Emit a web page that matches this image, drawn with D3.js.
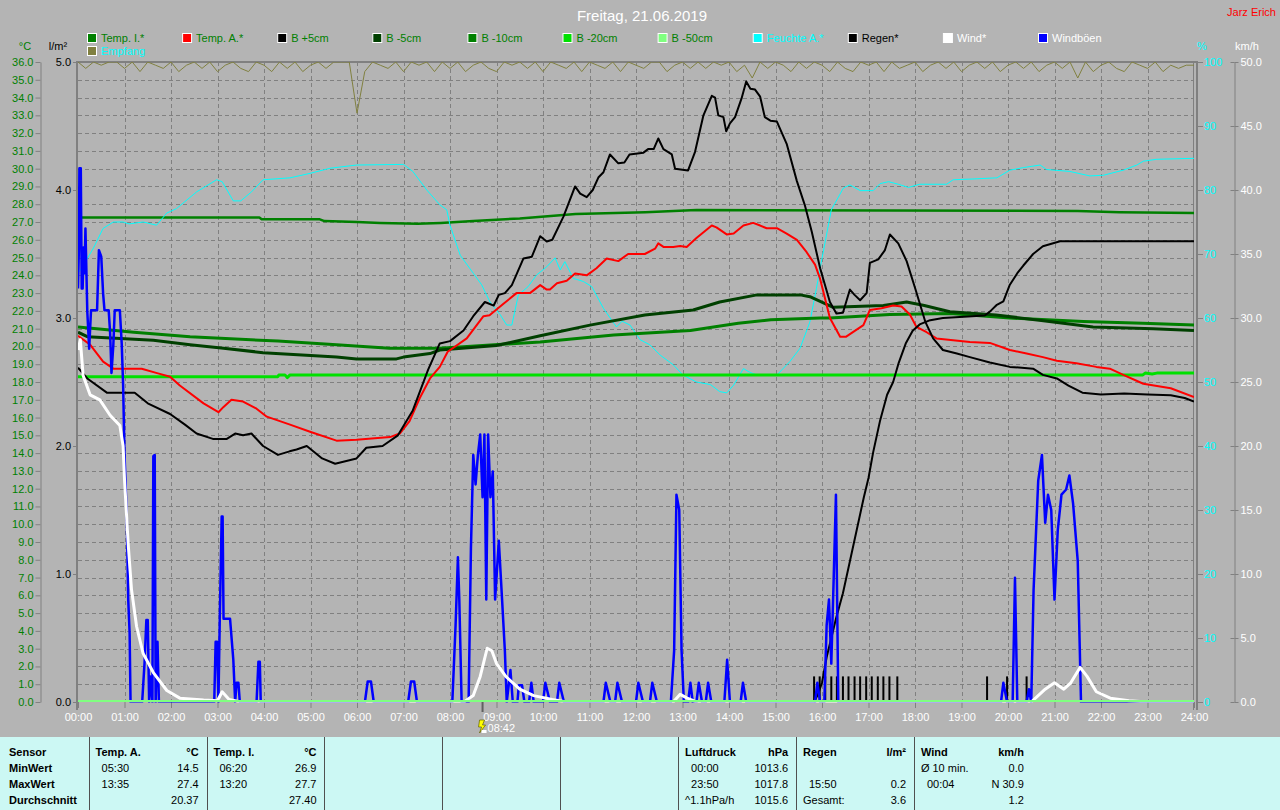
<!DOCTYPE html>
<html><head><meta charset="utf-8">
<script src="https://cdn.jsdelivr.net/npm/d3@7"></script>
<style>
body{margin:0;background:#b4b4b4;}
svg{display:block;font-family:"Liberation Sans",Arial,sans-serif;}
</style>
</head><body>
<svg id="c" width="1280" height="810"></svg>
<script>
// ---------------- DATA ----------------
const title = "Freitag, 21.06.2019";
const author = "Jarz Erich";
const hourLabels = d3.range(0, 25).map(h => (h < 10 ? "0" + h : "" + h) + ":00");
const tempTicks = d3.range(0, 37);
const rainTicks = [0, 1, 2, 3, 4, 5];
const humTicks = d3.range(0, 101, 10);
const windTicks = d3.range(0, 51, 5);

const legendNames = ["Temp. I.*", "Temp. A.*", "B +5cm", "B -5cm", "B -10cm", "B -20cm", "B -50cm", "Feuchte A.*", "Regen*", "Wind*", "Windböen"];
const legendColors = ["#008000", "#ff0000", "#000000", "#004000", "#008000", "#00e000", "#80ff80", "#00ffff", "#000000", "#ffffff", "#0000ff"];
const legendTextColors = ["#008000", "#008000", "#008000", "#008000", "#008000", "#008000", "#008000", "#00ffff", "#000000", "#ffffff", "#ffffff"];

// [hour, °C]
const tempI = [[0,27.25],[3.9,27.25],[3.95,27.15],[5.2,27.15],[5.3,27.05],[6.0,27.0],[6.5,26.95],[7.3,26.9],[7.8,26.95],[8.5,27.05],[9.5,27.2],[10.7,27.45],[12.2,27.55],[13.3,27.67],[21.5,27.62],[22.4,27.55],[24,27.5]];
const tempA = [[0,20.6],[0.26,20.1],[0.54,19.15],[0.76,18.75],[1.37,18.75],[1.7,18.5],[1.98,18.3],[2.19,17.8],[2.7,16.8],[3.02,16.3],[3.13,16.6],[3.3,17.0],[3.55,16.9],[3.84,16.5],[4.06,16.05],[4.56,15.6],[4.99,15.2],[5.56,14.7],[5.99,14.75],[6.71,14.9],[6.92,15.1],[7.13,15.8],[7.35,17.1],[7.57,18.2],[7.78,18.85],[7.95,19.7],[8.36,20.45],[8.72,21.7],[8.85,21.75],[9.15,22.4],[9.43,23.0],[9.72,23.0],[9.94,23.45],[10.08,23.2],[10.15,23.2],[10.3,23.55],[10.51,23.7],[10.69,24.1],[10.94,24.0],[11.15,24.4],[11.37,24.95],[11.62,24.8],[11.83,25.2],[12.19,25.2],[12.41,25.5],[12.48,25.8],[12.59,25.6],[12.8,25.6],[12.95,25.65],[13.09,25.6],[13.3,26.1],[13.63,26.8],[13.73,26.7],[13.95,26.3],[14.1,26.35],[14.31,26.8],[14.52,26.95],[14.67,26.8],[14.81,26.65],[15.03,26.65],[15.24,26.35],[15.46,26.0],[15.67,25.3],[15.85,24.6],[15.96,23.8],[16.17,21.6],[16.39,20.55],[16.52,20.55],[16.89,21.2],[17.03,22.05],[17.28,22.15],[17.53,22.3],[17.71,22.25],[17.89,21.8],[18.03,21.1],[18.25,20.8],[18.46,20.45],[18.82,20.35],[19.18,20.25],[19.61,20.2],[20.04,19.8],[20.4,19.6],[20.75,19.4],[21.05,19.2],[21.47,19.05],[21.9,18.85],[22.19,18.75],[22.48,18.4],[22.91,17.9],[23.5,17.65],[24,17.15]];
const bPlus5 = [[0,18.8],[0.2,18.2],[0.62,17.4],[1.22,17.4],[1.5,16.8],[1.98,16.2],[2.3,15.6],[2.55,15.1],[2.9,14.8],[3.2,14.8],[3.38,15.1],[3.55,15.0],[3.73,15.1],[3.98,14.4],[4.3,13.9],[4.55,14.1],[4.7,14.2],[4.92,14.4],[5.25,13.7],[5.53,13.4],[5.99,13.7],[6.2,14.3],[6.55,14.4],[6.88,15.0],[7.2,16.4],[7.53,18.7],[7.78,20.17],[8.0,20.3],[8.29,20.9],[8.5,21.7],[8.75,22.5],[8.94,22.3],[9.05,22.9],[9.18,23.0],[9.33,23.45],[9.58,24.95],[9.76,25.05],[9.94,26.2],[10.08,25.9],[10.2,26.0],[10.44,27.3],[10.69,29.0],[10.8,28.6],[10.94,28.4],[11.07,28.8],[11.19,29.5],[11.3,29.8],[11.44,30.8],[11.62,30.3],[11.75,30.35],[11.86,30.8],[12.16,30.9],[12.26,31.1],[12.38,31.1],[12.48,31.7],[12.59,31.1],[12.77,30.8],[12.84,30.0],[13.12,29.9],[13.27,30.95],[13.45,33.0],[13.63,34.1],[13.7,34.0],[13.77,33.0],[13.88,32.9],[13.94,32.1],[14.02,32.55],[14.13,32.9],[14.27,33.95],[14.37,34.9],[14.46,34.5],[14.56,34.45],[14.67,34.05],[14.77,32.9],[14.89,32.7],[15.03,32.65],[15.24,31.4],[15.46,29.3],[15.63,27.95],[15.78,26.45],[15.96,24.4],[16.17,22.5],[16.31,21.85],[16.45,21.9],[16.6,23.2],[16.7,22.9],[16.82,22.6],[16.96,23.0],[17.03,24.7],[17.21,24.9],[17.35,25.4],[17.46,26.3],[17.64,25.8],[17.82,24.8],[18.0,23.3],[18.22,21.4],[18.39,20.45],[18.6,19.8],[18.9,19.6],[19.18,19.4],[19.61,19.1],[20.04,18.85],[20.54,18.75],[20.75,18.4],[21.05,18.2],[21.3,17.8],[21.6,17.4],[22.0,17.3],[22.5,17.35],[23.0,17.3],[23.5,17.25],[23.8,17.1],[24,16.9]];
const bMinus5 = [[0,20.8],[0.2,20.55],[1.62,20.35],[2.41,20.1],[3.13,19.9],[3.98,19.65],[5.56,19.4],[5.99,19.3],[6.85,19.3],[7.0,19.4],[7.57,19.6],[7.78,19.8],[9.0,20.05],[9.94,20.6],[11.01,21.2],[12.19,21.77],[13.23,22.05],[13.8,22.5],[14.6,22.9],[15.53,22.9],[15.74,22.8],[16.24,22.2],[17.32,22.3],[17.82,22.5],[18.2,22.3],[18.75,21.95],[19.74,21.77],[20.76,21.45],[21.83,21.1],[23.12,21.0],[24,20.9]];
const bMinus10 = [[0,21.1],[1.2,20.8],[2.41,20.55],[4.3,20.3],[5.56,20.1],[6.7,19.9],[7.78,19.9],[9.94,20.25],[11.52,20.65],[13.17,20.9],[14.2,21.3],[14.9,21.5],[15.96,21.6],[16.17,21.6],[17.46,21.8],[18.75,21.85],[20.04,21.6],[21.62,21.4],[22.9,21.3],[24,21.2]];
const bMinus20 = [[0,18.3],[4.3,18.3],[4.32,18.4],[4.45,18.4],[4.5,18.25],[4.56,18.4],[22.9,18.4],[22.95,18.5],[23.1,18.45],[23.2,18.5],[24,18.5]];
const bMinus50 = [[0,0],[24,0]];
// [hour, %]
const humidity = [[0,67.0],[0.08,67.8],[0.33,70.9],[0.54,74.0],[0.76,75.0],[0.97,75.0],[1.1,74.7],[1.4,75.0],[1.69,74.5],[1.91,76.4],[2.12,77.1],[2.55,79.7],[2.98,81.6],[3.1,81.3],[3.34,78.3],[3.5,78.3],[3.73,79.7],[3.98,81.6],[4.56,81.9],[4.99,82.6],[5.42,83.4],[5.99,83.9],[7.0,84.0],[7.2,82.9],[7.5,80.0],[7.78,77.7],[7.93,76.9],[8.0,74.5],[8.22,69.8],[8.5,67.0],[8.68,65.2],[8.86,62.5],[9.08,60.5],[9.22,58.9],[9.33,58.9],[9.47,63.6],[9.68,64.9],[9.86,66.7],[10.08,68.0],[10.26,69.4],[10.37,67.5],[10.47,68.8],[10.65,66.2],[10.87,65.7],[11.05,64.9],[11.3,61.5],[11.58,58.6],[11.7,59.5],[11.87,58.9],[12.09,56.6],[12.3,55.8],[12.52,54.2],[12.8,52.7],[13.01,51.1],[13.3,50.0],[13.6,49.6],[13.8,48.5],[13.95,48.3],[14.1,49.5],[14.31,52.1],[14.45,51.5],[14.6,51.1],[15.03,51.1],[15.31,53.2],[15.53,55.3],[15.74,59.4],[15.88,64.6],[15.96,67.8],[16.2,76.9],[16.46,80.3],[16.6,80.8],[16.82,79.9],[17.1,79.9],[17.25,81.0],[17.43,81.3],[17.64,80.9],[17.86,80.4],[18.1,80.9],[18.68,80.9],[18.82,81.6],[19.18,81.7],[19.76,81.9],[20.04,83.1],[20.33,83.5],[20.69,83.9],[20.83,83.2],[21.33,82.9],[21.76,82.2],[22.05,82.3],[22.48,83.1],[22.77,83.9],[22.91,84.5],[23.2,84.8],[24,84.95]];
// Empfang, %, every 10 minutes
const reception = [100,99,100,99.5,100,100,99,100,98.5,100,99.5,99,
100,98.5,99.5,100,99,100,98.5,99.5,100,99,98.5,100,
99.5,98.5,100,99,100,98.5,99.5,100,99,100,100,100,
92,98.5,100,99.5,99,100,98.5,100,99.5,100,98.5,100,
99,100,98.5,99.5,100,99,98.5,100,99.5,100,99,100,
98.5,100,99.5,99,100,98.5,100,99.5,99,100,98.5,100,
99.5,99,100,100,98.5,99.5,100,99,100,99,100,99.5,
100,98.5,99.5,97.5,100,99,100,99.5,98.5,100,99,100,
99.5,98.5,100,99,98.5,100,99.5,100,98.5,100,99,99.5,
100,98.5,99.5,100,99,100,98.5,99.5,100,99,100,98.5,
99.5,100,99,100,98.5,99.5,100,99,100,97.5,100,98.5,
99.5,100,99,98.5,100,99.5,99,100,98.5,99.5,99,99.5,99.5];
// rain: [hour, l/m² per interval] and cumulative
const rainBars = [[15.83,0.2],[15.95,0.2],[16.07,0.2],[16.2,0.2],[16.32,0.2],[16.45,0.2],[16.57,0.2],[16.7,0.2],[16.82,0.2],[16.95,0.2],[17.07,0.2],[17.2,0.2],[17.32,0.2],[17.45,0.2],[17.62,0.2],[19.55,0.2],[19.98,0.2],[20.4,0.2]];
const rainSum = [[15.83,0],[15.9,0.05],[16.0,0.15],[16.1,0.35],[16.2,0.5],[16.3,0.65],[16.45,0.85],[16.6,1.1],[16.75,1.35],[16.9,1.6],[17.0,1.75],[17.1,1.95],[17.25,2.2],[17.4,2.4],[17.53,2.5],[17.65,2.65],[17.8,2.8],[17.95,2.9],[18.1,2.95],[18.3,2.98],[18.6,3.0],[19.5,3.02],[19.61,3.05],[19.75,3.1],[19.9,3.13],[20.04,3.26],[20.2,3.35],[20.33,3.41],[20.54,3.5],[20.75,3.56],[21.12,3.6],[24,3.6]];
// [hour, km/h]
const wind = [[0,27.5],[0.05,28.3],[0.11,25.5],[0.26,24.0],[0.47,23.6],[0.69,22.4],[0.9,21.6],[0.97,20.0],[1.0,17.4],[1.08,12.3],[1.15,8.8],[1.26,5.9],[1.4,3.8],[1.62,2.3],[1.91,0.9],[2.19,0.3],[2.7,0.15],[3.0,0.1],[3.1,0.8],[3.25,0.2],[3.5,0],[8.3,0],[8.5,0.5],[8.65,2.0],[8.8,4.2],[8.9,4.0],[9.0,3.0],[9.2,2.0],[9.5,1.0],[9.8,0.5],[10.2,0.2],[10.5,0],[12.8,0],[12.95,0.6],[13.1,0.3],[13.3,0],[20.5,0],[20.8,1.0],[21.0,1.5],[21.2,1.0],[21.35,1.5],[21.55,2.7],[21.7,2.0],[21.9,0.8],[22.2,0.3],[22.6,0.1],[23,0],[24,0]];
const gusts = [[0,32.3],[0.02,35.5],[0.03,41.7],[0.06,41.7],[0.08,32.3],[0.1,32.3],[0.12,35.5],[0.14,33.5],[0.16,37.0],[0.2,30.5],[0.24,27.6],[0.28,30.6],[0.41,30.6],[0.45,35.3],[0.5,34.8],[0.54,31.9],[0.57,30.6],[0.66,30.6],[0.69,28.9],[0.72,25.7],[0.76,27.9],[0.79,30.6],[0.9,30.6],[0.94,28.0],[0.97,24.8],[1.0,19.4],[1.05,14.2],[1.08,8.0],[1.11,5.4],[1.13,0],
[1.38,0],[1.4,1.2],[1.43,3.0],[1.47,6.4],[1.5,6.4],[1.53,0],[1.56,2.0],[1.6,0],[1.62,19.2],[1.65,19.3],[1.67,0],[1.69,3.0],[1.71,4.7],[1.74,0],
[2.93,0],[2.96,4.7],[2.99,4.7],[3.02,0],[3.05,6.7],[3.09,14.5],[3.11,14.5],[3.13,6.5],[3.27,6.5],[3.34,3.3],[3.38,0],[3.41,1.5],[3.45,1.5],[3.48,0],
[3.84,0],[3.88,3.15],[3.91,3.15],[3.93,0],
[6.17,0],[6.23,1.6],[6.3,1.6],[6.36,0],
[7.1,0],[7.16,1.6],[7.23,1.6],[7.29,0],
[8.05,0],[8.12,6.0],[8.17,11.3],[8.2,8.0],[8.25,0],[8.4,0],[8.45,12.0],[8.5,19.3],[8.55,17.0],[8.6,19.3],[8.65,20.9],[8.7,16.0],[8.74,20.9],[8.78,8.0],[8.82,20.9],[8.87,16.0],[8.92,18.0],[8.97,8.0],[9.05,12.6],[9.12,8.0],[9.18,4.0],[9.22,0],[9.3,2.5],[9.35,0],[9.45,0],[9.48,1.3],[9.55,1.3],[9.6,0],[9.7,0],[9.75,1.5],[9.8,0],[10.0,0],[10.05,1.5],[10.15,0],[10.3,0],[10.35,1.5],[10.45,0],
[11.3,0],[11.35,1.5],[11.45,0],[11.55,0],[11.6,1.5],[11.7,0],[12.0,0],[12.05,1.5],[12.15,0],[12.3,0],[12.35,1.5],[12.45,0],
[12.75,0],[12.82,4.0],[12.87,16.2],[12.93,15.0],[12.98,4.0],[13.03,0],[13.12,0],[13.17,1.5],[13.22,0],[13.3,0],[13.35,1.5],[13.42,0],[13.5,0],[13.55,1.5],[13.62,0],[13.9,0],[13.96,3.3],[14.02,0],[14.25,0],[14.3,1.5],[14.37,0],
[15.85,0],[15.9,1.5],[15.96,0],[16.05,0],[16.1,6.0],[16.15,8.0],[16.2,3.0],[16.25,9.5],[16.3,16.2],[16.35,0],
[19.85,0],[19.9,1.5],[19.98,0],[20.1,0],[20.15,9.7],[20.2,0],[20.4,0],[20.45,1.0],[20.5,0],[20.55,8.75],[20.65,17.3],[20.73,19.3],[20.8,14.0],[20.86,16.2],[20.93,15.0],[21.0,8.0],[21.07,13.4],[21.15,16.2],[21.25,16.6],[21.32,17.7],[21.4,15.5],[21.5,11.0],[21.57,0],[24,0]];

// summary table
const tableRowLabels = ["Sensor", "MinWert", "MaxWert", "Durchschnitt"];
const tableCols = [
  {head: ["Temp. A.", "°C"], rows: [["05:30", "14.5"], ["13:35", "27.4"], ["", "20.37"]]},
  {head: ["Temp. I.", "°C"], rows: [["06:20", "26.9"], ["13:20", "27.7"], ["", "27.40"]]},
  null, null, null,
  {head: ["Luftdruck", "hPa"], rows: [["00:00", "1013.6"], ["23:50", "1017.8"], ["^1.1hPa/h", "1015.6"]]},
  {head: ["Regen", "l/m²"], rows: [["", ""], ["15:50", "0.2"], ["Gesamt:", "3.6"]]},
  {head: ["Wind", "km/h"], rows: [["Ø 10 min.", "0.0"], ["00:04", "N 30.9"], ["", "1.2"]]}
];
const lightningTime = "08:42";
const lightningHour = 8.7;

// ---------------- CHART ----------------
const svg = d3.select("#c");
const L = 78, R = 1194, T = 62, B = 702;
const x = d3.scaleLinear([0, 24], [L, R]);
const yT = d3.scaleLinear([0, 36], [B, T]);
const yR = d3.scaleLinear([0, 5], [B, T]);
const yH = d3.scaleLinear([0, 100], [B, T]);
const yW = d3.scaleLinear([0, 50], [B, T]);
const GRAY = "#808080";

svg.append("rect").attr("width", 1280).attr("height", 810).attr("fill", "#b4b4b4");

// title
svg.append("text").attr("x", 642).attr("y", 21).attr("text-anchor", "middle")
  .attr("fill", "#ffffff").attr("font-size", 15).text(title);
svg.append("text").attr("x", 1276).attr("y", 16).attr("text-anchor", "end")
  .attr("fill", "#ff0000").attr("font-size", 11).text(author);

// legend
const lg = svg.append("g");
legendNames.forEach((n, i) => {
  const lx = 87 + i * 95.1;
  lg.append("rect").attr("x", lx + 0.5).attr("y", 33.5).attr("width", 9).attr("height", 9)
    .attr("fill", legendColors[i]).attr("stroke", "#ffffff").attr("stroke-width", 1);
  lg.append("text").attr("x", lx + 14).attr("y", 42).attr("font-size", 11)
    .attr("fill", legendTextColors[i]).text(n);
});
lg.append("rect").attr("x", 87.5).attr("y", 46.5).attr("width", 9).attr("height", 9)
  .attr("fill", "#808040").attr("stroke", "#ffffff");
lg.append("text").attr("x", 101).attr("y", 55).attr("font-size", 11).attr("fill", "#00ffff").text("Empfang");

// axis unit labels
svg.append("text").attr("x", 25).attr("y", 50).attr("text-anchor", "middle").attr("font-size", 11).attr("fill", "#008000").text("°C");
svg.append("text").attr("x", 58).attr("y", 50).attr("text-anchor", "middle").attr("font-size", 11).attr("fill", "#000000").text("l/m²");
svg.append("text").attr("x", 1202).attr("y", 50).attr("text-anchor", "middle").attr("font-size", 11).attr("fill", "#00ffff").text("%");
svg.append("text").attr("x", 1247).attr("y", 50).attr("text-anchor", "middle").attr("font-size", 11).attr("fill", "#ffffff").text("km/h");

// grid
const grid = svg.append("g").attr("stroke", GRAY).attr("stroke-width", 1).attr("stroke-dasharray", "4,3").attr("shape-rendering", "crispEdges");
tempTicks.filter(v => v > 0 && v < 36).forEach(v => {
  grid.append("line").attr("x1", L).attr("x2", R).attr("y1", Math.round(yT(v)) + 0.5).attr("y2", Math.round(yT(v)) + 0.5);
});
d3.range(1, 24).forEach(h => {
  grid.append("line").attr("x1", Math.round(x(h)) + 0.5).attr("x2", Math.round(x(h)) + 0.5).attr("y1", T).attr("y2", B);
});

function styleAxis(g, color) {
  g.selectAll("path.domain").attr("stroke", GRAY);
  g.selectAll(".tick line").attr("stroke", GRAY);
  g.selectAll(".tick text").attr("fill", color).attr("font-size", 11)
    .attr("font-family", "'Liberation Sans',Arial,sans-serif");
}
// left temperature axis
const gT = svg.append("g").attr("transform", "translate(40.5,0)")
  .call(d3.axisLeft(yT).tickValues(tempTicks).tickFormat(d3.format(".1f")).tickSize(5).tickSizeOuter(0).tickPadding(2));
styleAxis(gT, "#008000");
// rain axis
const gR = svg.append("g").attr("transform", "translate(77,0)")
  .call(d3.axisLeft(yR).tickValues(rainTicks).tickFormat(d3.format(".1f")).tickSize(4).tickSizeOuter(0).tickPadding(2));
styleAxis(gR, "#000000");
gR.select("path.domain").remove();
// humidity axis
const gH = svg.append("g").attr("transform", "translate(1198,0)")
  .call(d3.axisRight(yH).tickValues(humTicks).tickSize(5).tickSizeOuter(0).tickPadding(1));
styleAxis(gH, "#00ffff");
gH.select("path.domain").remove();
// wind axis
const gW = svg.append("g").attr("transform", "translate(1234.5,0)")
  .call(d3.axisRight(yW).tickValues(windTicks).tickFormat(d3.format(".1f")).tickSize(4).tickSizeOuter(0).tickPadding(2));
styleAxis(gW, "#ffffff");
gW.selectAll(".tick").append("line").attr("x1", -4).attr("x2", 0).attr("stroke", GRAY);
// x axis
const gX = svg.append("g").attr("transform", "translate(0,702)")
  .call(d3.axisBottom(x).tickValues(d3.range(0, 25)).tickFormat((d, i) => hourLabels[i]).tickSize(6).tickSizeOuter(0).tickPadding(5));
styleAxis(gX, "#ffffff");
gX.select("path.domain").remove();

// plot frame
const frame = svg.append("g").attr("stroke", GRAY).attr("fill", "none").attr("shape-rendering", "crispEdges");
frame.append("line").attr("x1", 77).attr("x2", 77).attr("y1", T - 1).attr("y2", 710).attr("stroke-width", 2);
frame.append("line").attr("x1", 76).attr("x2", 1198).attr("y1", 61.5).attr("y2", 61.5).attr("stroke-width", 2);
frame.append("line").attr("x1", 1193.5).attr("x2", 1193.5).attr("y1", T).attr("y2", 710).attr("stroke-width", 1);
frame.append("line").attr("x1", 1197).attr("x2", 1197).attr("y1", T).attr("y2", 710).attr("stroke-width", 2);

// clip
svg.append("clipPath").attr("id", "pc").append("rect").attr("x", L).attr("y", T).attr("width", R - L).attr("height", B - T + 0.5);
const plot = svg.append("g").attr("clip-path", "url(#pc)").attr("fill", "none").attr("stroke-linejoin", "round");

const lineT = d3.line().x(d => x(d[0])).y(d => yT(d[1]));
const lineH = d3.line().x(d => x(d[0])).y(d => yH(d[1]));
const lineR = d3.line().x(d => x(d[0])).y(d => yR(d[1]));
const lineW = d3.line().x(d => x(d[0])).y(d => yW(d[1]));

// Empfang
plot.append("path").datum(reception.map((v, i) => [i / 6, v])).attr("d", lineH).attr("stroke", "#808040").attr("stroke-width", 1);
// soil & temps
plot.append("path").datum(tempI).attr("d", lineT).attr("stroke", "#008000").attr("stroke-width", 2.5);
plot.append("path").datum(humidity).attr("d", lineH).attr("stroke", "#00ffff").attr("stroke-width", 1);
plot.append("path").datum(bMinus20).attr("d", lineT).attr("stroke", "#00e000").attr("stroke-width", 3);
plot.append("path").datum(bMinus10).attr("d", lineT).attr("stroke", "#008000").attr("stroke-width", 3);
plot.append("path").datum(bMinus5).attr("d", lineT).attr("stroke", "#004000").attr("stroke-width", 3);
plot.append("path").datum(tempA).attr("d", lineT).attr("stroke", "#ff0000").attr("stroke-width", 2);
plot.append("path").datum(bPlus5).attr("d", lineT).attr("stroke", "#000000").attr("stroke-width", 2);
// rain
plot.selectAll("rect.rain").data(rainBars).join("rect").attr("class", "rain")
  .attr("x", d => x(d[0]) - 1).attr("width", 2).attr("y", d => yR(d[1])).attr("height", d => yR(0) - yR(d[1]))
  .attr("fill", "#000000");
plot.append("path").datum(rainSum).attr("d", lineR).attr("stroke", "#000000").attr("stroke-width", 2);
// wind
plot.append("path").datum(gusts).attr("d", lineW).attr("stroke", "#0000ff").attr("stroke-width", 2.5);
plot.append("path").datum(wind).attr("d", lineW).attr("stroke", "#ffffff").attr("stroke-width", 3);
// B -50 at zero (baseline)
plot.append("path").datum(bMinus50).attr("d", d3.line().x(d => x(d[0])).y(d => yT(d[1]) - 1)).attr("stroke", "#80ff80").attr("stroke-width", 2);

// lightning marker
const lx = x(lightningHour);
svg.append("line").attr("x1", lx).attr("x2", lx).attr("y1", 702).attr("y2", 712).attr("stroke", "#606060").attr("stroke-width", 2);
svg.append("path").attr("d", `M${lx - 3},720 L${lx + 2},720 L${lx},725 L${lx + 3},725 L${lx - 3},733 L${lx - 1},727 L${lx - 4},727 Z`)
  .attr("fill", "#ffff00").attr("stroke", "#606000").attr("stroke-width", 0.7);
svg.append("rect").attr("x", lx - 1).attr("y", 730).attr("width", 5).attr("height", 3).attr("fill", "#ffffff");
svg.append("text").attr("x", lx + 5).attr("y", 732).attr("font-size", 11).attr("fill", "#ffffff").text(lightningTime);

// ---------------- TABLE ----------------
const tb = svg.append("g");
tb.append("rect").attr("x", 0).attr("y", 737).attr("width", 1280).attr("height", 73).attr("fill", "#ccf8f4");
const rowY = [756, 772, 788, 804];
tableRowLabels.forEach((t, i) => {
  tb.append("text").attr("x", 9).attr("y", rowY[i]).attr("font-size", 11).attr("font-weight", "bold").attr("fill", "#000").text(t);
});
const colX0 = 88.6, colW = 117.9;
tableCols.forEach((c, k) => {
  const cx = colX0 + k * colW;
  tb.append("line").attr("x1", Math.round(cx) + 0.5).attr("x2", Math.round(cx) + 0.5).attr("y1", 737).attr("y2", 810)
    .attr("stroke", "#505050").attr("stroke-width", 1);
  if (!c) return;
  tb.append("text").attr("x", cx + 7).attr("y", rowY[0]).attr("font-size", 11).attr("font-weight", "bold").text(c.head[0]);
  tb.append("text").attr("x", cx + 110).attr("y", rowY[0]).attr("font-size", 11).attr("font-weight", "bold").attr("text-anchor", "end").text(c.head[1]);
  c.rows.forEach((r, j) => {
    const indent = /^\d\d:\d\d$/.test(r[0]) ? 13 : 7;
    tb.append("text").attr("x", cx + indent).attr("y", rowY[j + 1]).attr("font-size", 11).text(r[0]);
    tb.append("text").attr("x", cx + 110).attr("y", rowY[j + 1]).attr("font-size", 11).attr("text-anchor", "end").text(r[1]);
  });
});
</script>
</body></html>
